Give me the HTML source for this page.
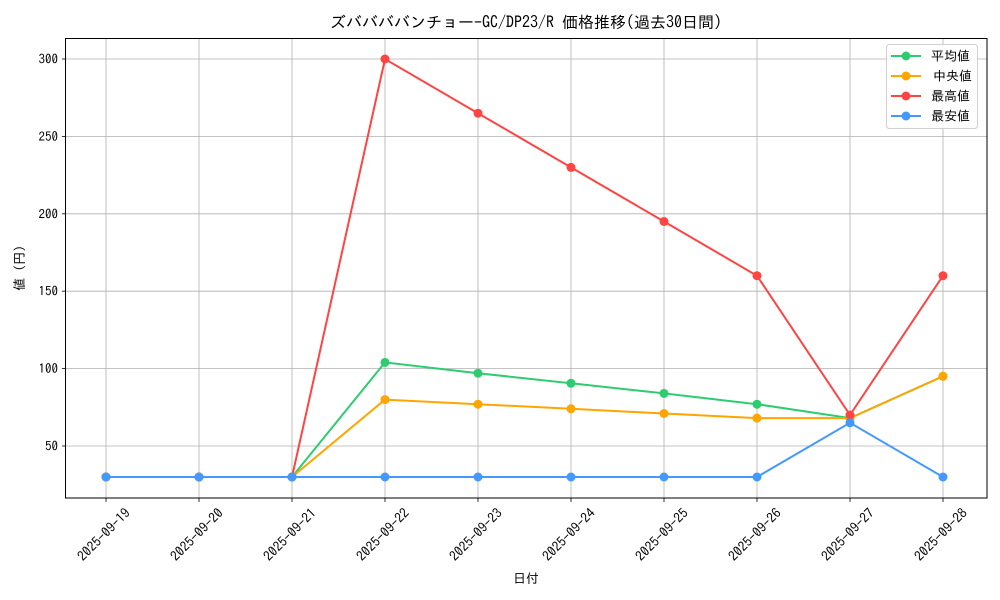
<!DOCTYPE html>
<html><head><meta charset="utf-8"><style>body{margin:0;background:#fff}svg{display:block}text{font-family:"IPAGothic","Liberation Sans","Noto Sans CJK JP",sans-serif;fill:#000}</style></head><body>
<svg width="1000" height="600" viewBox="0 0 1000 600">
<rect width="1000" height="600" fill="#fff"/>
<g stroke="#b0b0b0" stroke-width="0.8">
<line x1="106" y1="38" x2="106" y2="498"/><line x1="199" y1="38" x2="199" y2="498"/><line x1="292" y1="38" x2="292" y2="498"/><line x1="385" y1="38" x2="385" y2="498"/><line x1="478" y1="38" x2="478" y2="498"/><line x1="571" y1="38" x2="571" y2="498"/><line x1="664" y1="38" x2="664" y2="498"/><line x1="757" y1="38" x2="757" y2="498"/><line x1="850" y1="38" x2="850" y2="498"/><line x1="943" y1="38" x2="943" y2="498"/>
<line x1="66" y1="446" x2="987" y2="446"/><line x1="66" y1="368.6" x2="987" y2="368.6"/><line x1="66" y1="291.2" x2="987" y2="291.2"/><line x1="66" y1="213.8" x2="987" y2="213.8"/><line x1="66" y1="136.4" x2="987" y2="136.4"/><line x1="66" y1="59" x2="987" y2="59"/>
</g>
<g stroke="#000" stroke-width="0.8">
<line x1="106" y1="498" x2="106" y2="502"/><line x1="199" y1="498" x2="199" y2="502"/><line x1="292" y1="498" x2="292" y2="502"/><line x1="385" y1="498" x2="385" y2="502"/><line x1="478" y1="498" x2="478" y2="502"/><line x1="571" y1="498" x2="571" y2="502"/><line x1="664" y1="498" x2="664" y2="502"/><line x1="757" y1="498" x2="757" y2="502"/><line x1="850" y1="498" x2="850" y2="502"/><line x1="943" y1="498" x2="943" y2="502"/>
<line x1="62" y1="446" x2="66" y2="446"/><line x1="62" y1="368.6" x2="66" y2="368.6"/><line x1="62" y1="291.2" x2="66" y2="291.2"/><line x1="62" y1="213.8" x2="66" y2="213.8"/><line x1="62" y1="136.4" x2="66" y2="136.4"/><line x1="62" y1="59" x2="66" y2="59"/>
</g>
<g font-size="13" text-anchor="end">
<text x="58" y="450.5">50</text><text x="58" y="373">100</text><text x="58" y="295.7">150</text><text x="58" y="218.3">200</text><text x="58" y="140.9">250</text><text x="58" y="63.5">300</text>
</g>
<g font-size="13.5" text-anchor="end">
<text transform="translate(131,514) rotate(-45)">2025-09-19</text>
<text transform="translate(224,514) rotate(-45)">2025-09-20</text>
<text transform="translate(317,514) rotate(-45)">2025-09-21</text>
<text transform="translate(410,514) rotate(-45)">2025-09-22</text>
<text transform="translate(503,514) rotate(-45)">2025-09-23</text>
<text transform="translate(596,514) rotate(-45)">2025-09-24</text>
<text transform="translate(689,514) rotate(-45)">2025-09-25</text>
<text transform="translate(782,514) rotate(-45)">2025-09-26</text>
<text transform="translate(875,514) rotate(-45)">2025-09-27</text>
<text transform="translate(968,514) rotate(-45)">2025-09-28</text>
</g>
<text x="526" y="583" font-size="13" text-anchor="middle">日付</text>
<text transform="translate(24,268) rotate(-90)" font-size="13" text-anchor="middle">値 (円)</text>
<text x="526" y="28" font-size="16" text-anchor="middle">ズババババンチョー-GC/DP23/R 価格推移(過去30日間)</text>
<g fill="none" stroke-width="2">
<polyline stroke="#2ecc71" points="106,477 199,477 292,477 385,362.4 478,373.2 571,383.3 664,393.4 757,404.2 850,418.1 943,376.3"/>
<polyline stroke="#ffa500" points="106,477 199,477 292,477 385,399.6 478,404.2 571,408.8 664,413.5 757,418.1 850,418.1 943,376.3"/>
<polyline stroke="#ff4444" points="106,477 199,477 292,477 385,59 478,113.2 571,167.4 664,221.5 757,275.7 850,415 943,275.7"/>
<polyline stroke="#4499ff" points="106,477 199,477 292,477 385,477 478,477 571,477 664,477 757,477 850,422.8 943,477"/>
</g>
<g fill="#2ecc71"><circle cx="106" cy="477" r="4.5"/><circle cx="199" cy="477" r="4.5"/><circle cx="292" cy="477" r="4.5"/><circle cx="385" cy="362.4" r="4.5"/><circle cx="478" cy="373.2" r="4.5"/><circle cx="571" cy="383.3" r="4.5"/><circle cx="664" cy="393.4" r="4.5"/><circle cx="757" cy="404.2" r="4.5"/><circle cx="850" cy="418.1" r="4.5"/><circle cx="943" cy="376.3" r="4.5"/></g>
<g fill="#ffa500"><circle cx="106" cy="477" r="4.5"/><circle cx="199" cy="477" r="4.5"/><circle cx="292" cy="477" r="4.5"/><circle cx="385" cy="399.6" r="4.5"/><circle cx="478" cy="404.2" r="4.5"/><circle cx="571" cy="408.8" r="4.5"/><circle cx="664" cy="413.5" r="4.5"/><circle cx="757" cy="418.1" r="4.5"/><circle cx="850" cy="418.1" r="4.5"/><circle cx="943" cy="376.3" r="4.5"/></g>
<g fill="#ff4444"><circle cx="106" cy="477" r="4.5"/><circle cx="199" cy="477" r="4.5"/><circle cx="292" cy="477" r="4.5"/><circle cx="385" cy="59" r="4.5"/><circle cx="478" cy="113.2" r="4.5"/><circle cx="571" cy="167.4" r="4.5"/><circle cx="664" cy="221.5" r="4.5"/><circle cx="757" cy="275.7" r="4.5"/><circle cx="850" cy="415" r="4.5"/><circle cx="943" cy="275.7" r="4.5"/></g>
<g fill="#4499ff"><circle cx="106" cy="477" r="4.5"/><circle cx="199" cy="477" r="4.5"/><circle cx="292" cy="477" r="4.5"/><circle cx="385" cy="477" r="4.5"/><circle cx="478" cy="477" r="4.5"/><circle cx="571" cy="477" r="4.5"/><circle cx="664" cy="477" r="4.5"/><circle cx="757" cy="477" r="4.5"/><circle cx="850" cy="422.8" r="4.5"/><circle cx="943" cy="477" r="4.5"/></g>
<rect x="65.5" y="38.5" width="921.5" height="459.5" fill="none" stroke="#000" stroke-width="1"/>
<rect x="886.5" y="44.5" width="91" height="84" rx="3" fill="#fff" fill-opacity="0.8" stroke="#d0d0d0"/>
<g stroke-width="2">
<line x1="891" y1="56" x2="921" y2="56" stroke="#2ecc71"/><circle cx="906" cy="56" r="4.5" fill="#2ecc71"/>
<line x1="891" y1="76" x2="921" y2="76" stroke="#ffa500"/><circle cx="906" cy="76" r="4.5" fill="#ffa500"/>
<line x1="891" y1="96" x2="921" y2="96" stroke="#ff4444"/><circle cx="906" cy="96" r="4.5" fill="#ff4444"/>
<line x1="891" y1="116" x2="921" y2="116" stroke="#4499ff"/><circle cx="906" cy="116" r="4.5" fill="#4499ff"/>
</g>
<g font-size="13">
<text x="931" y="60.5">平均値</text><text x="933" y="80.5">中央値</text><text x="931" y="100.5">最高値</text><text x="931" y="120.5">最安値</text>
</g>
</svg>
</body></html>
